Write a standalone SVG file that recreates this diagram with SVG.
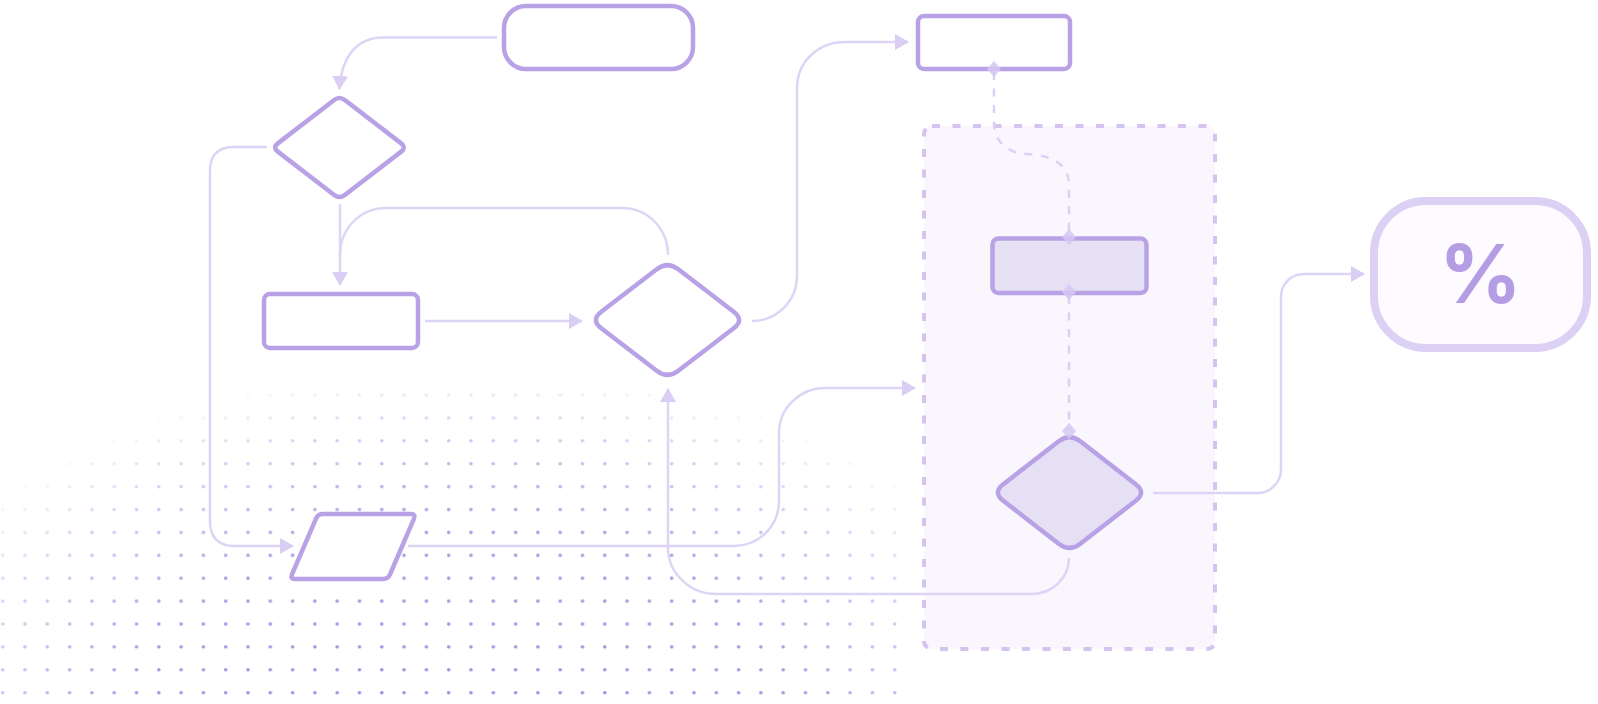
<svg xmlns="http://www.w3.org/2000/svg" width="1598" height="704" viewBox="0 0 1598 704">
<style>
.node{fill:#ffffff;stroke:#B9A1E6;stroke-width:4.5;stroke-linejoin:round}
.filled{fill:#E6E0F5}
.conn{fill:none;stroke:#DED4F6;stroke-width:2.5}
.dash{fill:none;stroke:#DCD0F4;stroke-width:2.5;stroke-dasharray:8 8.5}
.mk{fill:#D5C8F2;opacity:0.85}
</style>
<defs>
<marker id="arr" markerUnits="userSpaceOnUse" viewBox="0 0 14 16" markerWidth="14" markerHeight="16" refX="13" refY="8" orient="auto">
<path d="M0,0 L14,8 L0,16 Z" fill="#DACEF4"/>
</marker>
<pattern id="dots" patternUnits="userSpaceOnUse" width="22.3" height="22.9">
<circle cx="2.7" cy="5.7" r="1.8" fill="#A48BE2"/>
</pattern>
<radialGradient id="dotfade" gradientUnits="userSpaceOnUse" cx="0" cy="0" r="1" gradientTransform="translate(460 720) scale(600 360)">
<stop offset="0" stop-color="#fff" stop-opacity="1"/>
<stop offset="0.55" stop-color="#fff" stop-opacity="0.9"/>
<stop offset="0.8" stop-color="#fff" stop-opacity="0.45"/>
<stop offset="1" stop-color="#fff" stop-opacity="0"/>
</radialGradient>
<mask id="dotmask" maskUnits="userSpaceOnUse" x="0" y="0" width="1598" height="704">
<rect width="1598" height="704" fill="url(#dotfade)"/>
</mask>
</defs>
<rect width="1598" height="704" fill="#ffffff"/>
<rect x="0" y="380" width="910" height="324" fill="url(#dots)" mask="url(#dotmask)"/>

<g id="container">
<rect x="924" y="126" width="291" height="523" rx="8" fill="#F9F6FD" stroke="#D4C4EF" stroke-width="4" stroke-dasharray="8 12.5"/>
</g>

<g id="connectors">
<path class="conn" d="M497,37.5 L383,37.5 C356,37.5 341,58 339.5,89" marker-end="url(#arr)"/>
<path class="conn" d="M267,147 L234,147 Q210,147 210,171 L210,521 Q210,546 235,546 L293,546" marker-end="url(#arr)"/>
<path class="conn" d="M340,204 L340,285" marker-end="url(#arr)"/>
<path class="conn" d="M668,255 C668,229 648,208 622,208 L386,208 C360,208 340,229 340,255"/>
<path class="conn" d="M425,321 L582,321" marker-end="url(#arr)"/>
<path class="conn" d="M752,321 C777,321 797,301 797,276 L797,88 C797,62 818,42 845,42 L908,42" marker-end="url(#arr)"/>
<path class="conn" d="M408,546 L734,546 C759,546 779,526 779,501 L779,433 C779,408 800,388 825,388 L915,388" marker-end="url(#arr)"/>
<path class="conn" d="M1069,558 C1069,578 1052,594 1032,594 L716,594 C690,594 668,573 668,548 L668,389" marker-end="url(#arr)"/>
<path class="conn" d="M1153,493 L1258,493 C1270,493 1281,482 1281,470 L1281,297 C1281,284 1291,274 1304,274 L1364,274" marker-end="url(#arr)"/>
<path class="dash" d="M994,72 L994,124 C994,140 1006,153 1027,154 C1050,155 1069,163 1069,185 L1069,236"/>
<path class="dash" d="M1069,296 L1069,430"/>
</g>

<g id="start">
<rect class="node" x="504" y="6" width="189" height="63" rx="22"/>
</g>
<g id="decision1">
<path class="node" d="M334.2,100 Q339.5,96 344.8,100 L401.2,143.4 Q406.5,147.5 401.2,151.6 L344.8,195 Q339.5,199 334.2,195 L277.8,151.6 Q272.5,147.5 277.8,143.4 Z"/>
</g>
<g id="process1">
<rect class="node" x="264" y="294" width="154" height="54" rx="6"/>
</g>
<g id="decision2">
<path class="node" d="M656.7,269.3 Q667.5,261 678.3,269.3 L733.7,311.7 Q744.5,320 733.7,328.3 L678.3,370.7 Q667.5,379 656.7,370.7 L601.3,328.3 Q590.5,320 601.3,311.7 Z"/>
</g>
<g id="io">
<path class="node" d="M323,514 L411,514 Q416,514 414,518.6 L390,574.4 Q388,579 383,579 L295,579 Q290,579 292,574.4 L316,518.6 Q318,514 323,514 Z"/>
</g>
<g id="process2">
<rect class="node" x="918" y="16" width="152" height="53" rx="6"/>
</g>
<g id="process3">
<rect class="node filled" x="992.5" y="238.5" width="154" height="54.5" rx="6"/>
</g>
<g id="decision3">
<path class="node filled" d="M1058.7,441.3 Q1069.5,433 1080.3,441.3 L1135.7,484.2 Q1146.5,492.5 1135.7,500.8 L1080.3,543.7 Q1069.5,552 1058.7,543.7 L1003.3,500.8 Q992.5,492.5 1003.3,484.2 Z"/>
</g>
<g id="markers">
<path class="mk" d="M994,61 L1001,69 L994,77 L987,69 Z"/>
<path class="mk" d="M1069,229 L1076,237 L1069,245 L1062,237 Z"/>
<path class="mk" d="M1069,284 L1076,292 L1069,300 L1062,292 Z"/>
<path class="mk" d="M1069,423 L1076,431 L1069,439 L1062,431 Z"/>
</g>
<g id="result">
<rect x="1374" y="201" width="213" height="147" rx="52" fill="#FDFBFF" stroke="#DCD0F4" stroke-width="8"/>
<text x="1480.5" y="303" font-family="Inter, 'Noto Sans', sans-serif" font-weight="700" font-size="81" fill="#B49DE3" text-anchor="middle">%</text>
</g>
</svg>
